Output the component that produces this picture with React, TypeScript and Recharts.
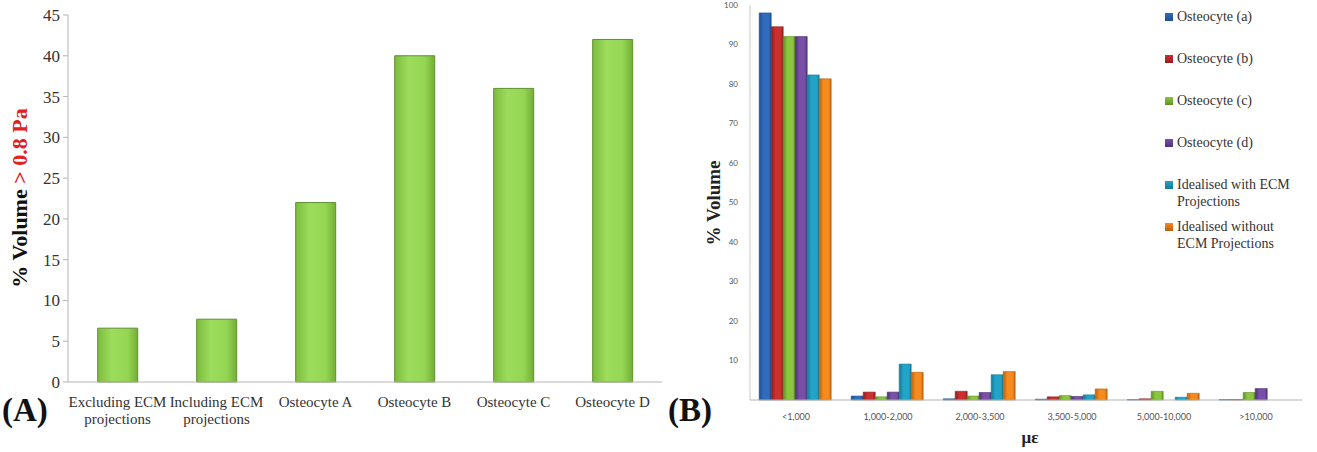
import React from "react";
import { BarChart, Bar, XAxis, YAxis, Legend } from "recharts";

// Panel A data
const categoriesA = [
  "Excluding ECM projections",
  "Including ECM projections",
  "Osteocyte A",
  "Osteocyte B",
  "Osteocyte C",
  "Osteocyte D",
];
const volumeA = [6.6, 7.7, 22, 40, 36, 42];
const ticksA = [0, 5, 10, 15, 20, 25, 30, 35, 40, 45];

// Panel B data
const strainBins = ["<1,000", "1,000-2,000", "2,000-3,500", "3,500-5,000", "5,000-10,000", ">10,000"];
const osteocyteA = [98, 1.0, 0.3, 0.2, 0.1, 0.1];
const osteocyteB = [94.5, 2.0, 2.2, 0.8, 0.3, 0.1];
const osteocyteC = [92, 0.8, 1.0, 1.1, 2.2, 1.9];
const osteocyteD = [92, 2.0, 1.9, 0.9, 0, 2.9];
const idealisedWith = [82.3, 9.1, 6.4, 1.3, 0.7, 0];
const idealisedWithout = [81.3, 7.0, 7.2, 2.8, 1.7, 0];
const ticksB = [0, 10, 20, 30, 40, 50, 60, 70, 80, 90, 100];

const seriesB = [
  { key: "a", name: "Osteocyte (a)", values: osteocyteA, color: "#2f6cbd", dark: "#1f4f8f" },
  { key: "b", name: "Osteocyte (b)", values: osteocyteB, color: "#c9302f", dark: "#8f1f1f" },
  { key: "c", name: "Osteocyte (c)", values: osteocyteC, color: "#8cc63f", dark: "#5f8f25" },
  { key: "d", name: "Osteocyte (d)", values: osteocyteD, color: "#7850a5", dark: "#4f3275" },
  { key: "e", name: "Idealised with ECM Projections", values: idealisedWith, color: "#22a3c8", dark: "#147a98" },
  { key: "f", name: "Idealised without ECM Projections", values: idealisedWithout, color: "#f58a1f", dark: "#b8620f" },
];

const dataA = categoriesA.map((name, i) => ({ name, value: volumeA[i] }));
const dataB = strainBins.map((bin, i) => {
  const row: Record<string, string | number> = { bin };
  seriesB.forEach((s) => (row[s.key] = s.values[i]));
  return row;
});

const serif = "'Liberation Serif', 'Times New Roman', serif";
const sans = "Lato, 'Liberation Sans', sans-serif";

function TickA({ x, y, payload }: any) {
  const label: string = payload.value;
  let lines = [label];
  if (label.length > 14) {
    const cut = label.lastIndexOf(" ");
    lines = [label.slice(0, cut), label.slice(cut + 1)];
  }
  return (
    <text x={x} y={y} textAnchor="middle" fontFamily={serif} fontSize={15} fill="#333">
      {lines.map((l, i) => (
        <tspan key={i} x={x} dy={i === 0 ? 17 : 17}>
          {l}
        </tspan>
      ))}
    </text>
  );
}

function YLabelA() {
  return (
    <text
      x={19}
      y={198}
      transform="rotate(-90 19 198)"
      textAnchor="middle"
      dominantBaseline="central"
      fontFamily={serif}
      fontWeight="bold"
      fontSize={22}
    >
      <tspan fill="#111">% Volume </tspan>
      <tspan fill="#e0211d">&gt; 0.8 Pa</tspan>
    </text>
  );
}

function YLabelB() {
  return (
    <text
      x={53}
      y={203}
      transform="rotate(-90 53 203)"
      textAnchor="middle"
      dominantBaseline="central"
      fontFamily={serif}
      fontWeight="bold"
      fontSize={19}
      fill="#222"
    >
      % Volume
    </text>
  );
}

function XLabelB() {
  return (
    <text x={370} y={443} textAnchor="middle" fontFamily={serif} fontWeight="bold" fontSize={17} fill="#222">
      με
    </text>
  );
}

function LegendB() {
  return (
    <div style={{ fontFamily: serif, fontSize: 14, color: "#333" }}>
      {seriesB.map((s) => (
        <div key={s.key} style={{ display: "flex", height: 42, alignItems: "flex-start" }}>
          <div
            style={{
              width: 8,
              height: 8,
              marginTop: 5,
              marginRight: 4,
              background: `linear-gradient(to bottom, ${s.color}, ${s.dark})`,
              flex: "none",
            }}
          />
          <div style={{ width: 128, lineHeight: "17px" }}>{s.name}</div>
        </div>
      ))}
    </div>
  );
}

export default function App() {
  return (
    <div style={{ position: "absolute", left: 0, top: 0, width: 1317, height: 452, background: "#fff" }}>
      <svg width={0} height={0} style={{ position: "absolute" }}>
        <defs>
          <linearGradient id="gA" x1="0" y1="0" x2="1" y2="0">
            <stop offset="0%" stopColor="#7cbc3c" />
            <stop offset="35%" stopColor="#9ddc5c" />
            <stop offset="75%" stopColor="#94d653" />
            <stop offset="100%" stopColor="#74ad36" />
          </linearGradient>
          {seriesB.map((s) => (
            <linearGradient key={s.key} id={`g${s.key}`} x1="0" y1="0" x2="1" y2="0">
              <stop offset="0%" stopColor={s.dark} />
              <stop offset="35%" stopColor={s.color} />
              <stop offset="80%" stopColor={s.color} />
              <stop offset="100%" stopColor={s.dark} />
            </linearGradient>
          ))}
        </defs>
      </svg>

      <div style={{ position: "absolute", left: 0, top: 0 }}>
        <BarChart
          width={680}
          height={452}
          data={dataA}
          margin={{ top: 15, right: 18, left: 0, bottom: 0 }}
          barCategoryGap="30%"
        >
          <XAxis
            dataKey="name"
            height={70}
            tick={<TickA />}
            tickLine={false}
            axisLine={{ stroke: "#b5b5b5" }}
            interval={0}
          />
          <YAxis
            width={68}
            domain={[0, 45]}
            ticks={ticksA}
            interval={0}
            tick={{ fontFamily: serif, fontSize: 17, fill: "#333" }}
            tickLine={{ stroke: "#b5b5b5" }}
            axisLine={{ stroke: "#b5b5b5" }}
            tickSize={5}
            tickMargin={3}
            label={<YLabelA />}
          />
          <Bar dataKey="value" fill="url(#gA)" stroke="#5f8f2f" strokeWidth={1} isAnimationActive={false} />
        </BarChart>
      </div>

      <div
        style={{
          position: "absolute",
          left: 2,
          top: 392,
          fontFamily: serif,
          fontWeight: "bold",
          fontSize: 33,
          color: "#111",
        }}
      >
        (A)
      </div>

      <div style={{ position: "absolute", left: 660, top: 0 }}>
        <BarChart
          width={657}
          height={452}
          data={dataB}
          margin={{ top: 5, right: 15, left: 0, bottom: 0 }}
          barCategoryGap="10%"
          barGap={0}
        >
          <XAxis
            dataKey="bin"
            height={52}
            interval={0}
            tick={{ fontFamily: sans, fontSize: 9, fill: "#555" }}
            tickLine={false}
            axisLine={{ stroke: "#b5b5b5" }}
            tickMargin={8}
            label={<XLabelB />}
          />
          <YAxis
            width={90}
            domain={[0, 100]}
            ticks={ticksB}
            interval={0}
            tick={{ fontFamily: sans, fontSize: 8, fill: "#555" }}
            tickFormatter={(v: number) => (v === 0 ? "" : String(v))}
            tickLine={false}
            axisLine={{ stroke: "#c8c8c8" }}
            tickMargin={6}
            label={<YLabelB />}
          />
          <Legend
            layout="vertical"
            align="center"
            verticalAlign="middle"
            wrapperStyle={{ left: 505, top: 8, width: 145 }}
            content={<LegendB />}
          />
          {seriesB.map((s) => (
            <Bar
              key={s.key}
              dataKey={s.key}
              name={s.name}
              fill={`url(#g${s.key})`}
              stroke={s.dark}
              strokeWidth={0.6}
              legendType="square"
              isAnimationActive={false}
            />
          ))}
        </BarChart>
      </div>

      <div
        style={{
          position: "absolute",
          left: 668,
          top: 392,
          fontFamily: serif,
          fontWeight: "bold",
          fontSize: 33,
          color: "#111",
        }}
      >
        (B)
      </div>
    </div>
  );
}
